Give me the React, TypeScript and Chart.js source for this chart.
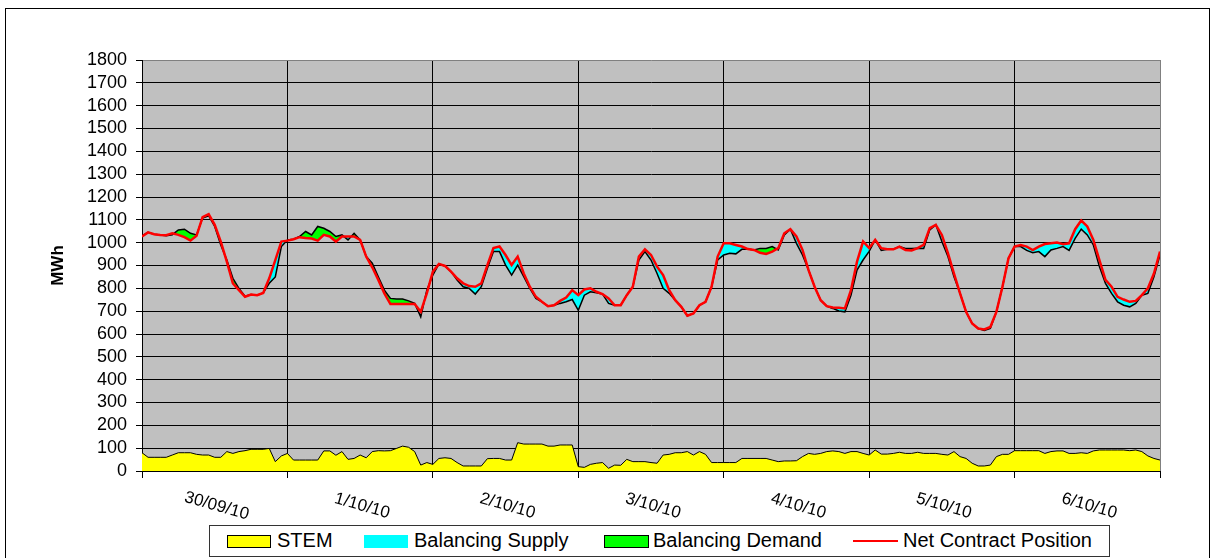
import { useEffect, useRef } from 'react';
import { Chart, registerables } from 'chart.js';

Chart.register(...registerables);

const DAY_LABELS = ['30/09/10', '1/10/10', '2/10/10', '3/10/10', '4/10/10', '5/10/10', '6/10/10'];

// Hourly values, 30/09/10 00:00 .. 7/10/10 00:00 (MWh)
const NET_CONTRACT = [
  1027, 1045, 1037, 1034, 1033, 1041, 1034, 1024, 1009, 1030, 1112, 1125, 1078, 1005, 917, 822, 792, 763, 773, 770, 780, 844, 924, 1005,
  1009, 1015, 1024, 1020, 1018, 1009, 1034, 1027, 1005, 1027, 1027, 1027, 1012, 939, 892, 837, 778, 731, 731, 731, 731, 731, 697, 778,
  873, 907, 898, 873, 844, 822, 810, 807, 822, 902, 976, 983, 946, 902, 939, 865, 807, 763, 741, 722, 726, 745, 760, 792,
  770, 795, 800, 785, 775, 756, 726, 726, 770, 807, 939, 971, 946, 895, 858, 792, 748, 719, 680, 690, 726, 741, 807, 939,
  997, 997, 990, 983, 972, 968, 956, 951, 961, 976, 1041, 1059, 1027, 968, 880, 807, 748, 722, 716, 715, 712, 792, 917, 1005,
  976, 1012, 976, 971, 971, 983, 968, 966, 976, 990, 1064, 1078, 1034, 954, 865, 778, 697, 646, 624, 620, 631, 697, 807, 932,
  983, 990, 983, 968, 983, 994, 997, 1001, 993, 997, 1059, 1097, 1071, 1012, 924, 837, 807, 763, 751, 741, 745, 770, 800, 865, 961,
];

// Total contracted (STEM + bilateral) before balancing
const BASE_POSITION = [
  1030, 1045, 1037, 1034, 1030, 1035, 1056, 1059, 1041, 1034, 1108, 1118, 1071, 990, 924, 844, 800, 765, 773, 770, 780, 822, 850, 983,
  1012, 1015, 1027, 1049, 1034, 1071, 1063, 1049, 1027, 1034, 1012, 1041, 1012, 939, 910, 851, 792, 756, 753, 753, 745, 734, 675, 792,
  858, 907, 898, 873, 836, 807, 800, 775, 807, 888, 961, 961, 902, 858, 902, 851, 800, 756, 741, 722, 726, 734, 741, 751,
  704, 770, 785, 781, 775, 734, 726, 726, 770, 807, 924, 961, 924, 865, 800, 778, 748, 719, 680, 690, 726, 741, 807, 924,
  946, 954, 951, 971, 972, 968, 975, 975, 983, 968, 1034, 1059, 997, 946, 880, 807, 748, 722, 712, 701, 697, 770, 880, 924,
  962, 1012, 966, 971, 971, 983, 975, 975, 976, 975, 1056, 1078, 1005, 939, 851, 778, 697, 646, 624, 616, 625, 697, 807, 932,
  983, 983, 966, 956, 961, 939, 968, 975, 983, 966, 1019, 1059, 1034, 990, 895, 822, 778, 741, 726, 719, 734, 770, 778, 851, 946,
];

const STEM = [
  80, 60, 60, 60, 60, 70, 80, 80, 80, 73, 70, 70, 60, 60, 85, 77, 85, 89, 95, 95, 95, 99, 41, 66,
  77, 48, 48, 48, 48, 48, 88, 88, 69, 85, 51, 55, 70, 58, 85, 89, 88, 89, 99, 109, 104, 85, 26, 37,
  29, 55, 58, 55, 37, 22, 22, 22, 22, 54, 55, 55, 48, 48, 124, 118, 118, 118, 118, 109, 109, 114, 114, 114,
  19, 16, 29, 34, 37, 12, 26, 25, 51, 41, 41, 41, 37, 34, 70, 73, 80, 80, 85, 70, 85, 73, 37, 37,
  37, 37, 37, 55, 55, 55, 55, 55, 48, 41, 44, 44, 45, 63, 77, 73, 77, 85, 88, 85, 77, 85, 85, 77,
  70, 92, 74, 74, 77, 82, 77, 77, 82, 77, 77, 77, 73, 70, 85, 63, 55, 34, 22, 22, 26, 63, 73, 73,
  89, 89, 89, 89, 89, 77, 85, 88, 88, 77, 77, 80, 77, 88, 92, 92, 92, 92, 92, 89, 92, 85, 66, 55, 48,
];

const FONT = "'Liberation Sans', Arial, sans-serif";

export default function App() {
  const ref = useRef<HTMLCanvasElement>(null);

  useEffect(() => {
    if (!ref.current) return;
    const toPts = (a: number[]) => a.map((y, i) => ({ x: i, y }));

    const bgPlugin = {
      id: 'plotBg',
      beforeDraw(c: any) {
        const { ctx, chartArea: a } = c;
        ctx.save();
        ctx.fillStyle = '#C0C0C0';
        ctx.fillRect(a.left, a.top, a.right - a.left, a.bottom - a.top);
        ctx.restore();
      },
    };

    const decoPlugin = {
      id: 'deco',
      afterDraw(c: any) {
        const { ctx, chartArea: a } = c;
        const xs = c.scales.x;
        ctx.save();
        ctx.fillStyle = '#000';
        ctx.font = `17px ${FONT}`;
        ctx.textAlign = 'center';
        ctx.textBaseline = 'middle';
        DAY_LABELS.forEach((lab, i) => {
          const px = xs.getPixelForValue(i * 24 + 12);
          ctx.save();
          ctx.translate(px + 2, a.bottom + 35);
          ctx.rotate((16 * Math.PI) / 180);
          ctx.fillText(lab, 0, 0);
          ctx.restore();
        });
        ctx.save();
        ctx.font = `bold 17px ${FONT}`;
        ctx.translate(58, (a.top + a.bottom) / 2);
        ctx.rotate(-Math.PI / 2);
        ctx.fillText('MWh', 0, 0);
        ctx.restore();
        ctx.restore();
      },
    };

    const chart = new Chart(ref.current, {
      type: 'line',
      data: {
        datasets: [
          {
            label: 'Net Contract Position',
            data: toPts(NET_CONTRACT),
            borderColor: '#FF0000',
            borderWidth: 2.5,
            pointRadius: 0,
            fill: { target: 1, above: '#00FFFF', below: '#00FF00' },
            order: 0,
          },
          {
            label: 'Contract',
            data: toPts(BASE_POSITION),
            borderColor: '#000000',
            borderWidth: 1.5,
            pointRadius: 0,
            fill: false,
            order: 1,
          },
          {
            label: 'STEM',
            data: toPts(STEM),
            borderColor: '#000000',
            borderWidth: 1,
            backgroundColor: '#FFFF00',
            pointRadius: 0,
            fill: 'origin',
            order: 2,
          },
        ],
      },
      options: {
        animation: false,
        responsive: false,
        devicePixelRatio: 1,
        layout: { padding: { top: 60, right: 55, left: 0, bottom: 0 } },
        elements: { line: { tension: 0 } },
        plugins: {
          legend: { display: false },
          tooltip: { enabled: false },
          filler: { drawTime: 'beforeDatasetsDraw' },
        } as any,
        scales: {
          x: {
            type: 'linear',
            min: 0,
            max: 168,
            ticks: { stepSize: 24, display: false },
            grid: {
              color: (ctx: any) => (ctx.tick && ctx.tick.value === 168 ? '#808080' : '#000000'),
              lineWidth: 1,
              tickLength: 7,
              tickColor: '#000000',
            },
            border: { color: '#000000', width: 1 },
            afterFit(s: any) {
              s.height = 87;
            },
          },
          y: {
            min: 0,
            max: 1800,
            ticks: {
              stepSize: 100,
              autoSkip: false,
              color: '#000000',
              padding: 9,
              font: { family: FONT, size: 18, lineHeight: 1 },
              callback: (v: any) => String(v),
            },
            grid: {
              color: (ctx: any) => (ctx.tick && ctx.tick.value === 1800 ? '#808080' : '#000000'),
              lineWidth: 1,
              tickLength: 6,
              tickColor: '#000000',
            },
            border: { color: '#000000', width: 1 },
            afterFit(s: any) {
              s.width = 142;
            },
          },
        },
      },
      plugins: [bgPlugin, decoPlugin],
    } as any);
    return () => chart.destroy();
  }, []);

  const legendText: any = {
    position: 'absolute',
    top: 529,
    fontFamily: FONT,
    fontSize: 20,
    lineHeight: '22px',
    color: '#000',
    whiteSpace: 'nowrap',
  };
  const box = (left: number, width: number, color: string, border: boolean): any => ({
    position: 'absolute',
    left,
    top: 535,
    width,
    height: 13,
    boxSizing: 'border-box',
    background: color,
    border: border ? '1px solid #000' : 'none',
  });

  return (
    <div style={{ position: 'fixed', left: 0, top: 0, width: 1215, height: 558, overflow: 'hidden', background: '#fff' }}>
      <div style={{ position: 'absolute', left: 5, top: 8, width: 1205, height: 620, boxSizing: 'border-box', border: '1px solid #000' }} />
      <canvas ref={ref} width={1215} height={558} style={{ position: 'absolute', left: 0, top: 0, width: 1215, height: 558 }} />
      <div style={{ position: 'absolute', left: 209, top: 525, width: 901, height: 32, boxSizing: 'border-box', border: '1px solid #333', background: '#fff' }} />
      <div style={box(227, 44, '#FFFF00', true)} />
      <div style={{ ...legendText, left: 277 }}>STEM</div>
      <div style={box(364, 44, '#00FFFF', false)} />
      <div style={{ ...legendText, left: 414 }}>Balancing Supply</div>
      <div style={box(604, 45, '#00FF00', true)} />
      <div style={{ ...legendText, left: 653 }}>Balancing Demand</div>
      <div style={{ position: 'absolute', left: 853, top: 540, width: 45, height: 2, background: '#FF0000' }} />
      <div style={{ ...legendText, left: 903 }}>Net Contract Position</div>
    </div>
  );
}
